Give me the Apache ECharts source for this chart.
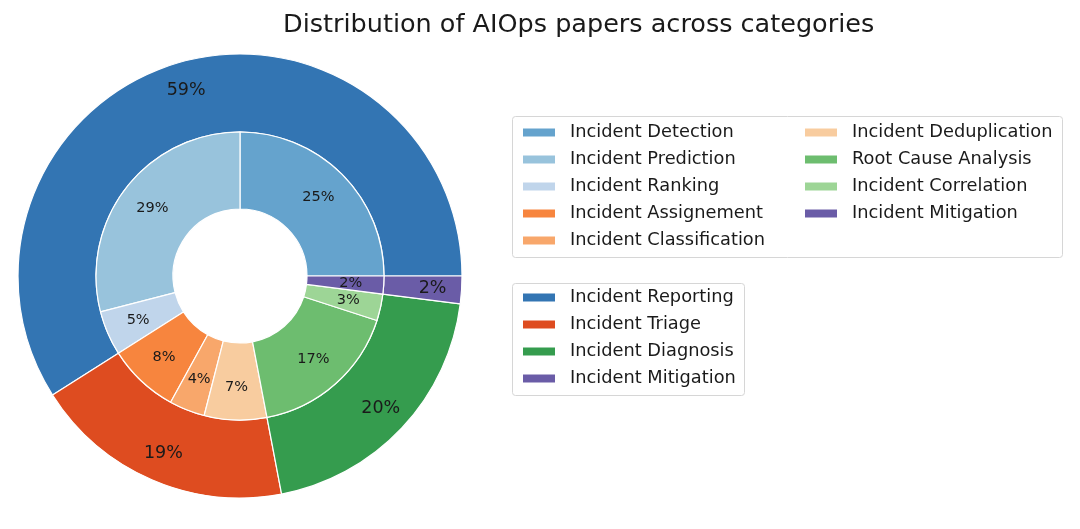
<!DOCTYPE html>
<html>
<head>
<meta charset="utf-8">
<script src="https://cdn.jsdelivr.net/npm/echarts@6/dist/echarts.min.js"></script>
<style>
html,body{margin:0;padding:0;background:#fff;}
#chart{width:1080px;height:529px;}
</style>
</head>
<body>
<div id="chart"></div>
<script>
const titleText = 'Distribution of AIOps papers across categories';

const outerNames = ['Incident Reporting', 'Incident Triage', 'Incident Diagnosis', 'Incident Mitigation'];
const outerValues = [59, 19, 20, 2];
const outerColors = ['#3375b3', '#de4c20', '#359c4e', '#6a5ca7'];

const innerNames = ['Incident Detection', 'Incident Prediction', 'Incident Ranking',
  'Incident Assignement', 'Incident Classification', 'Incident Deduplication',
  'Root Cause Analysis', 'Incident Correlation', 'Incident Mitigation'];
const innerValues = [25, 29, 5, 8, 4, 7, 17, 3, 2];
const innerColors = ['#65a3cd', '#98c3dc', '#c0d5eb', '#f7853e', '#f8a76b', '#f8cc9f',
  '#6dbd6f', '#9dd596', '#6a5ca7'];

const legendCol1 = innerNames.slice(0, 5);
const legendCol2 = innerNames.slice(5);

const FONT = 'DejaVu Sans';
const cx = 240, cy = 276;

function mkData(names, values, colors) {
  return names.map((n, i) => ({ name: n, value: values[i], itemStyle: { color: colors[i] } }));
}
function lblData(names, values) {
  return names.map((n, i) => ({ name: 'lbl_' + i + '_' + n, value: values[i] }));
}
const pctFmt = p => Math.round(p.percent) + '%';

const legendCommon = {
  orient: 'vertical',
  icon: 'rect',
  padding: 0,
  itemWidth: 34,
  itemHeight: 10,
  itemGap: 6,
  selectedMode: false,
  textStyle: { fontFamily: FONT, fontSize: 17.8, color: '#1a1a1a', lineHeight: 21, padding: [0, 0, 0, 9] }
};

const chart = echarts.init(document.getElementById('chart'), null, { renderer: 'canvas' });
chart.setOption({
  backgroundColor: '#fff',
  animation: false,
  title: {
    text: titleText,
    left: 283, top: 12, padding: 0,
    textStyle: { fontFamily: FONT, fontSize: 25.5, fontWeight: 'normal', color: '#1a1a1a' }
  },
  graphic: [
    { type: 'rect', shape: { x: 512.5, y: 116.5, width: 550, height: 141, r: 3 },
      style: { fill: 'rgba(255,255,255,0.8)', stroke: '#d6d6d6', lineWidth: 1 }, z: -1 },
    { type: 'rect', shape: { x: 512.5, y: 283.5, width: 232, height: 112, r: 3 },
      style: { fill: 'rgba(255,255,255,0.8)', stroke: '#d6d6d6', lineWidth: 1 }, z: -1 }
  ],
  legend: [
    Object.assign({}, legendCommon, { left: 521, top: 122, data: legendCol1 }),
    Object.assign({}, legendCommon, { left: 803, top: 122, data: legendCol2 }),
    Object.assign({}, legendCommon, { left: 521, top: 287, data: outerNames })
  ],
  series: [
    {
      type: 'pie', name: 'outer',
      center: [cx, cy], radius: [144, 222],
      startAngle: 0, clockwise: false,
      avoidLabelOverlap: false, silent: true,
      itemStyle: { borderColor: '#fff', borderWidth: 1.2 },
      label: { show: false }, labelLine: { show: false },
      data: mkData(outerNames, outerValues, outerColors)
    },
    {
      type: 'pie', name: 'inner',
      center: [cx, cy], radius: [67, 144],
      startAngle: 0, clockwise: false,
      avoidLabelOverlap: false, silent: true,
      itemStyle: { borderColor: '#fff', borderWidth: 1.2 },
      label: { show: false }, labelLine: { show: false },
      data: mkData(innerNames, innerValues, innerColors)
    },
    {
      type: 'pie', name: 'outerLabels',
      center: [cx, cy], radius: [158, 222],
      startAngle: 0, clockwise: false,
      avoidLabelOverlap: false, silent: true,
      itemStyle: { color: 'rgba(0,0,0,0)', borderWidth: 0 },
      label: { show: true, position: 'inside', formatter: pctFmt,
        fontFamily: FONT, fontSize: 17.5, color: '#1a1a1a' },
      labelLine: { show: false },
      data: lblData(outerNames, outerValues)
    },
    {
      type: 'pie', name: 'innerLabels',
      center: [cx, cy], radius: [72, 144],
      startAngle: 0, clockwise: false,
      avoidLabelOverlap: false, silent: true,
      itemStyle: { color: 'rgba(0,0,0,0)', borderWidth: 0 },
      label: { show: true, position: 'inside', formatter: pctFmt,
        fontFamily: FONT, fontSize: 14.5, color: '#1a1a1a' },
      labelLine: { show: false },
      data: lblData(innerNames, innerValues)
    }
  ]
});
</script>
</body>
</html>
